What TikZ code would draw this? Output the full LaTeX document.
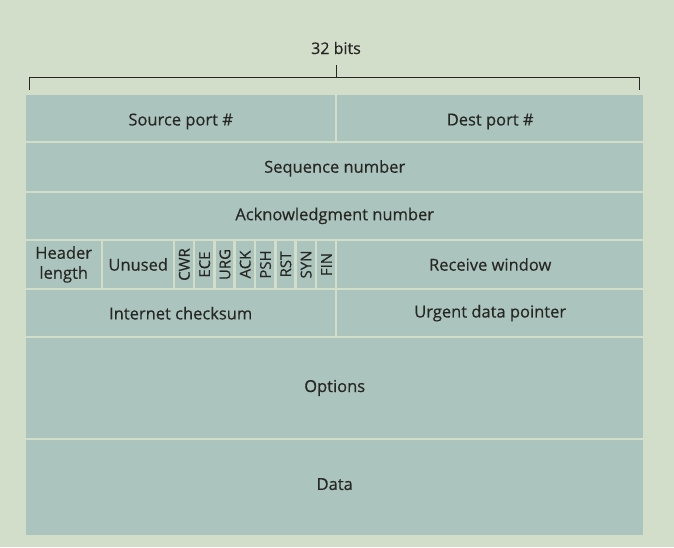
\documentclass[tikz,border=0pt]{standalone}
\usepackage{fontspec}
\setmainfont{Open Sans}[FakeBold=0.4]
\usepackage{tikz}
\usetikzlibrary{positioning}
\definecolor{page}{HTML}{D2DDCA}
\definecolor{cellfill}{HTML}{ABC5BE}
\definecolor{ink}{HTML}{262622}
% one field of the header: [extra], name, left, top, right, bottom, text
\newcommand{\field}[7][]{%
  \node[cell, anchor=north west, minimum width={(#5-#3)*1pt}, minimum height={(#6-#4)*1pt}, #1] (#2) at (#3,#4) {#7};}
\begin{document}
\begin{tikzpicture}[x=1pt, y=-1pt,
    cell/.style={fill=cellfill, inner sep=0pt, text=ink, font=\fontsize{16.5}{20}\selectfont, align=center},
    flag/.style={cell, rotate=90, font=\fontsize{15}{17}\selectfont},
    brace/.style={draw=ink, line width=0.8pt}
]
    \fill[page] (0,0) rectangle (674,547);
    \useasboundingbox (0,0) rectangle (674,547);
    % width label
    \node[text=ink, font=\fontsize{16}{18}\selectfont] (bits) at (336,48) {32 bits};
    \coordinate (bl) at (29,90);
    \coordinate (br) at (639,90);
    \coordinate (bm) at (336,77);
    \draw[brace] (bl) -- (bl |- bm) -- (br |- bm) -- (br);
    \draw[brace] (bm) -- ++(0,-12);
    % rows
    \field[text height=19pt, text depth=4pt]{src}{26}{94.5}{335}{141}{Source port \#}
    \field[text height=19pt, text depth=4pt]{dst}{337}{94.5}{643}{141}{Dest port \#}
    \field[text height=15pt, text depth=4pt]{seq}{26}{143}{643}{191}{Sequence number}
    \field{ack}{26}{193}{643}{238.5}{Acknowledgment number}
    \field{hlen}{26}{240.5}{101}{288}{Header\\length}
    \field{unused}{103}{240.5}{173}{288}{Unused}
    \foreach \f [count=\i from 0] in {CWR,ECE,URG,ACK,PSH,RST,SYN,FIN} {
        \pgfmathsetmacro{\xa}{175+20.3*\i}
        \pgfmathsetmacro{\xb}{\xa+17.7}
        \fill[cellfill] (\xa,240.5) rectangle (\xb,288);
        \node[flag] (flag\f) at ({\xa+9.3},264.5) {\f};
    }
    \field{rwnd}{337}{240.5}{643}{288}{Receive window}
    \field{csum}{26}{290}{335}{336}{Internet checksum}
    \field{urg}{337}{290}{643}{336}{Urgent data pointer}
    \field{opts}{26}{338}{643}{437.5}{Options}
    \field[text height=12pt, text depth=7pt]{data}{26}{439.5}{643}{535}{Data}
\end{tikzpicture}
\end{document}
